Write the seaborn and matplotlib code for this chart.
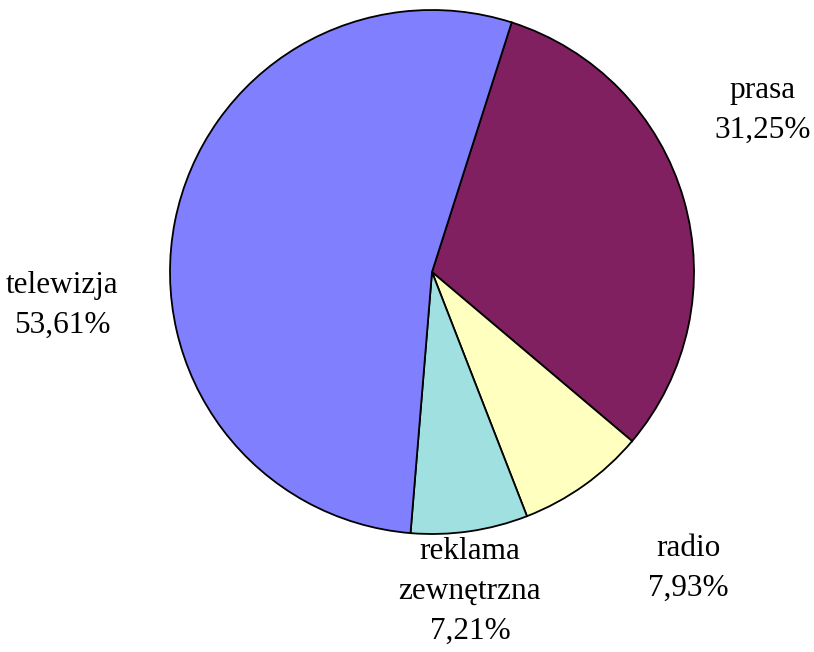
import matplotlib
matplotlib.use("Agg")
import matplotlib.pyplot as plt
import seaborn as sns

# Data
labels = ["prasa", "radio", "reklama\nzewnętrzna", "telewizja"]
values = [31.25, 7.93, 7.21, 53.61]
colors = ["#802060", "#FFFFC0", "#A0E0E0", "#8080FF"]

# label text positions (in pie radius units, relative to centre)
label_pos = [(1.263, 0.618), (0.977, -1.13), (0.145, -1.22), (-1.412, -0.126)]

sns.set_style("white")
plt.rcParams["font.family"] = ["Liberation Serif", "DejaVu Serif"]

fig = plt.figure(figsize=(8.14, 6.52), dpi=100)
ax = fig.add_axes([170 / 814, 118 / 652, 524 / 814, 524 / 652])

ax.pie(
    values,
    colors=colors,
    startangle=72.3,
    counterclock=False,
    radius=1,
    wedgeprops=dict(edgecolor="black", linewidth=1.3),
)

for lab, val, (x, y) in zip(labels, values, label_pos):
    txt = lab + "\n" + f"{val:.2f}".replace(".", ",") + "%"
    ax.text(x, y, txt, ha="center", va="center", fontsize=22.5,
            linespacing=1.5, color="black", clip_on=False)

ax.set_xlim(-1, 1)
ax.set_ylim(-1, 1)
ax.set_aspect("equal")
ax.axis("off")

plt.savefig("out.png", dpi=100, facecolor="white")
plt.close()
